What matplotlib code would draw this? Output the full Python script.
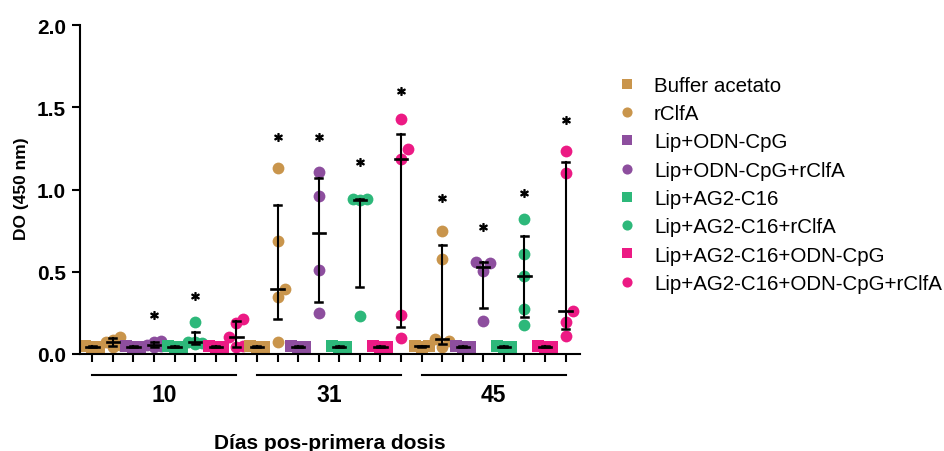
import numpy as np
import matplotlib.pyplot as plt
import matplotlib.transforms as mtransforms
from matplotlib.lines import Line2D

plt.rcParams['font.family'] = ['Liberation Sans', 'DejaVu Sans']

days = ['10', '31', '45']
groups = ['Buffer acetato', 'rClfA', 'Lip+ODN-CpG', 'Lip+ODN-CpG+rClfA',
          'Lip+AG2-C16', 'Lip+AG2-C16+rClfA', 'Lip+AG2-C16+ODN-CpG',
          'Lip+AG2-C16+ODN-CpG+rClfA']
colors = ['#C9954C', '#C9954C', '#8D4E9E', '#8D4E9E',
          '#2DB87A', '#2DB87A', '#EC1A84', '#EC1A84']
markers = ['s', 'o'] * 4

# DO 450 nm per animal, one list per day (10, 31, 45)
buffer_acetato = [[0.043, 0.045, 0.047], [0.042, 0.044, 0.046], [0.044, 0.046, 0.048]]
rclfa = [[0.045, 0.055, 0.07, 0.085, 0.105],
         [0.071, 0.349, 0.396, 0.689, 1.128],
         [0.04, 0.078, 0.089, 0.58, 0.75]]
lip_cpg = [[0.043, 0.045, 0.047], [0.043, 0.045, 0.047], [0.042, 0.044, 0.046]]
lip_cpg_rclfa = [[0.04, 0.05, 0.055, 0.07, 0.08],
                 [0.252, 0.508, 0.963, 1.106],
                 [0.203, 0.502, 0.555, 0.56]]
lip_ag2 = [[0.043, 0.045, 0.047], [0.043, 0.045, 0.047], [0.042, 0.044, 0.046]]
lip_ag2_rclfa = [[0.06, 0.066, 0.071, 0.075, 0.193],
                 [0.234, 0.935, 0.94, 0.945],
                 [0.177, 0.272, 0.472, 0.608, 0.821]]
lip_ag2_cpg = [[0.043, 0.045, 0.047], [0.043, 0.045, 0.047], [0.042, 0.044, 0.046]]
lip_ag2_cpg_rclfa = [[0.04, 0.05, 0.106, 0.19, 0.21],
                     [0.096, 0.238, 1.183, 1.248, 1.427],
                     [0.112, 0.193, 0.26, 1.098, 1.234]]

series = [buffer_acetato, rclfa, lip_cpg, lip_cpg_rclfa,
          lip_ag2, lip_ag2_rclfa, lip_ag2_cpg, lip_ag2_cpg_rclfa]

# significance marks over the rClfA groups
star_groups = [1, 3, 5, 7]
star_y = [[None, 0.24, 0.35, None],
          [1.32, 1.32, 1.17, 1.60],
          [0.95, 0.77, 0.98, 1.42]]

fig = plt.figure(figsize=(9.45, 4.52), dpi=100)
W, H = 945, 452
ax = fig.add_axes([80 / W, 1 - 355 / H, 500 / W, 329 / H])
xmin, xmax = -0.6, 23.7
ymin, ymax = 0, 2.0
ax.set_xlim(xmin, xmax)
ax.set_ylim(ymin, ymax)

ppx = 500 / (xmax - xmin)
ppy = 329 / (ymax - ymin)


def spread(vals, step=7.0, diam=11.5):
    # horizontal offsets (data units) for overlapping points, Prism-like
    order = np.argsort(vals)
    placed = []
    offs = np.zeros(len(vals))
    for i in order:
        y = vals[i] * ppy
        best, best_d = 0.0, -1
        for k in (0, 1, -1):
            xo = k * step
            hit = [1 for px, py in placed
                   if abs(y - py) < diam and abs(xo - px) < step]
            if not hit:
                best = xo
                break
            d = min(np.hypot(xo - px, y - py) for px, py in placed)
            if d > best_d:
                best, best_d = xo, d
        placed.append((best, y))
        offs[i] = best / ppx
    return offs


for d in range(len(days)):
    for g in range(len(groups)):
        x0 = d * 8 + g
        vals = np.array(series[g][d])
        xs = x0 + spread(vals)
        ax.plot(xs, vals, ls='none', marker=markers[g], ms=8.5,
                mfc=colors[g], mec=colors[g], mew=0, zorder=2, clip_on=False)
        med = np.median(vals)
        q1 = np.percentile(vals, 25, method='weibull')
        q3 = np.percentile(vals, 75, method='weibull')
        ax.plot([x0, x0], [q1, q3], color='k', lw=1.5, zorder=3)
        ax.plot([x0 - 0.17, x0 + 0.17], [q1, q1], color='k', lw=1.8, zorder=3)
        ax.plot([x0 - 0.17, x0 + 0.17], [q3, q3], color='k', lw=1.8, zorder=3)
        ax.plot([x0 - 0.3, x0 + 0.3], [med, med], color='k', lw=1.9, zorder=3)

    for g, sy in zip(star_groups, star_y[d]):
        if sy is not None:
            ax.plot(d * 8 + g, sy, ls='none', marker='$*$', ms=5.5, color='k')

for side in ['top', 'right']:
    ax.spines[side].set_visible(False)
for side in ['left', 'bottom']:
    ax.spines[side].set_linewidth(1.5)

ax.set_xticks(np.arange(24))
ax.set_xticklabels([])
ax.set_yticks([0, 0.5, 1.0, 1.5, 2.0])
ax.set_yticklabels(['0.0', '0.5', '1.0', '1.5', '2.0'])
ax.tick_params(direction='out', length=6, width=1.5, pad=4)
for lbl in ax.get_yticklabels():
    lbl.set_fontsize(15)
    lbl.set_fontweight('bold')

# day brackets under the axis
trans = mtransforms.blended_transform_factory(ax.transData, ax.transAxes)
for d, day in enumerate(days):
    ax.plot([d * 8, d * 8 + 7], [-0.064, -0.064], color='k', lw=1.5,
            transform=trans, clip_on=False)
    ax.text(d * 8 + 3.5, -0.122, day, transform=trans, ha='center', va='center',
            fontsize=16.5, fontweight='bold')

fig.text(330 / W, 1 - 444 / H, 'Días pos-primera dosis', ha='center', va='center',
         fontsize=15, fontweight='bold')
fig.text(21.7 / W, 1 - 189 / H, 'DO (450 nm)', rotation=90, ha='center', va='center',
         fontsize=12.5, fontweight='bold')

handles = [Line2D([], [], ls='none', marker=markers[g], ms=7.3, mfc=colors[g], mec=colors[g], mew=0)
           for g in range(len(groups))]
fig.legend(handles, groups, loc='upper left', bbox_to_anchor=(617 / W, 1 - 77 / H),
           frameon=False, fontsize=14.8, handlelength=1.0, handletextpad=0.8,
           labelspacing=0.45, borderpad=0, borderaxespad=0)

fig.savefig('out.png', dpi=100)
